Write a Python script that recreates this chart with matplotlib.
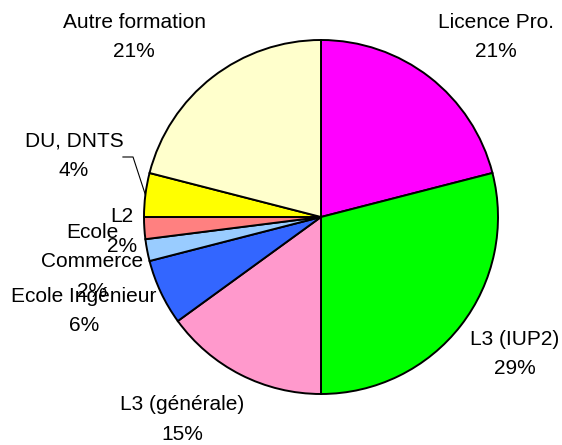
import matplotlib
matplotlib.use('Agg')
import matplotlib.pyplot as plt
import numpy as np

# data
categories = ['Licence Pro.', 'L3 (IUP2)', 'L3 (générale)', 'Ecole Ingénieur',
              'Ecole\nCommerce', 'L2', 'DU, DNTS', 'Autre formation']
shares = [21, 29, 15, 6, 2, 2, 4, 21]

colors = ['#FF00FF', '#00FF00', '#FF99CC', '#3366FF',
          '#99CCFF', '#FF8080', '#FFFF00', '#FFFFCC']

# label centres in pie-radius units (pie centre at 0,0)
label_pos = [(0.99, 1.017), (1.096, -0.774), (-0.785, -1.144), (-1.339, -0.531),
             (-1.294, -0.254), (-1.124, -0.082), (-1.395, 0.345), (-1.056, 1.017)]

plt.rcParams['font.family'] = ['Liberation Sans', 'DejaVu Sans']

fig = plt.figure(figsize=(5.62, 4.45), dpi=100)
ax = fig.add_axes([0, 0, 1, 1])

wedges, _ = ax.pie(shares, colors=colors, startangle=90, counterclock=False,
                   radius=1.0, center=(0, 0),
                   wedgeprops=dict(edgecolor='black', linewidth=1.4))

for name, v, (x, y) in zip(categories, shares, label_pos):
    ax.text(x, y, f'{name}\n{v}%', ha='center', va='center',
            fontsize=15, linespacing=1.7, color='black')

# leader line for DU, DNTS
w = wedges[6]
mid = np.deg2rad((w.theta1 + w.theta2) / 2)
ex, ey = np.cos(mid), np.sin(mid)
ax.plot([-1.119, -1.062, ex], [0.339, 0.339, ey], color='black', lw=0.8)

cx, cy, r = 321, 217, 177
ax.set_xlim(-cx / r, (562 - cx) / r)
ax.set_ylim((cy - 445) / r, cy / r)
ax.set_aspect('equal')
ax.axis('off')

fig.savefig('out.png', dpi=100, facecolor='white')
